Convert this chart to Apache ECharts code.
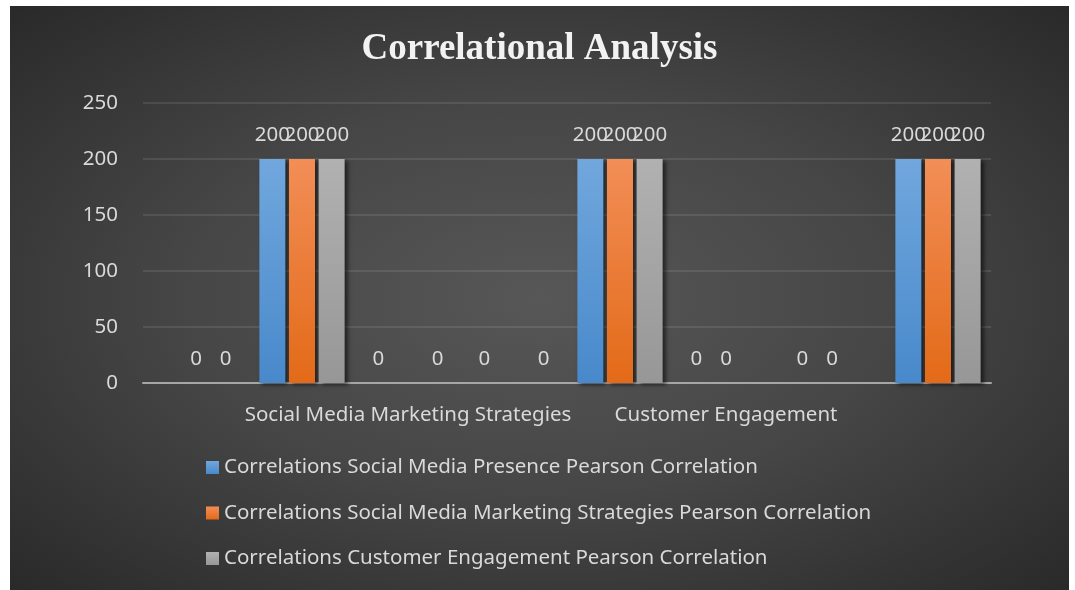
<!DOCTYPE html>
<html>
<head>
<meta charset="utf-8">
<script src="https://cdn.jsdelivr.net/npm/echarts@6/dist/echarts.min.js"></script>
<style>
  html, body { margin: 0; padding: 0; background: #fff; }
  #chart {
    position: absolute;
    left: 10px; top: 6px;
    width: 1059px; height: 584px;
    background: radial-gradient(ellipse 75% 75% at 50% 50%, #575757 0%, #464646 45%, #262626 100%);
  }
</style>
</head>
<body>
<div id="chart"></div>
<script>
// values
const categories = ['', '', 'Social Media Marketing Strategies', '', '', 'Customer Engagement', '', '']
const presence   = [null, 200, 0, 0, 200, 0, 0, 200]
const marketing  = [0, 200, null, null, 200, 0, 0, 200]
const engagement = [0, 200, 0, 0, 200, null, null, 200]
const yTicks     = { min: 0, max: 250, step: 50 }

const seriesNames = [
  'Correlations Social Media Presence Pearson Correlation',
  'Correlations Social Media Marketing Strategies Pearson Correlation',
  'Correlations Customer Engagement Pearson Correlation',
]

const font = '"Noto Sans", sans-serif'
const fs   = 20.5
const txt  = '#d9d9d9'

function grad(top, bottom) {
  return new echarts.graphic.LinearGradient(0, 0, 0, 1, [
    { offset: 0, color: top },
    { offset: 1, color: bottom },
  ])
}

function bar(name, data, top, bottom) {
  return {
    name, type: 'bar', data,
    barWidth: 26,
    barGap: '14%',
    itemStyle: {
      color: grad(top, bottom),
      shadowColor: 'rgba(0,0,0,0.55)', shadowBlur: 4,
      shadowOffsetX: 3, shadowOffsetY: 2,
    },
    label: {
      show: true, position: 'top', distance: 13,
      color: txt, fontSize: fs, fontFamily: font,
    },
  }
}

const chart = echarts.init(document.getElementById('chart'), null, { renderer: 'canvas' })

chart.setOption({
  backgroundColor: 'transparent',
  animation: false,
  title: {
    text: 'Correlational Analysis',
    left: 'center', top: 20,
    textStyle: {
      color: '#f2f2f2', fontSize: 37, fontWeight: 'bold',
      fontFamily: '"Liberation Serif", "Times New Roman", serif',
    },
  },
  grid: { left: 133, right: 78, top: 97, bottom: 207, containLabel: false },
  legend: {
    orient: 'vertical',
    left: 196, top: 451, padding: 0,
    itemWidth: 13, itemHeight: 13, itemGap: 24.5,
    icon: 'rect',
    textStyle: { color: txt, fontSize: fs, fontFamily: font },
  },
  xAxis: {
    type: 'category', data: categories,
    axisLine: { lineStyle: { color: '#a6a6a6', width: 2 } },
    axisTick: { show: false },
    axisLabel: { interval: 0, color: txt, fontSize: fs, fontFamily: font, margin: 22 },
    splitLine: { show: false },
  },
  yAxis: {
    type: 'value',
    min: yTicks.min, max: yTicks.max, interval: yTicks.step,
    axisLine: { show: false }, axisTick: { show: false },
    axisLabel: { color: txt, fontSize: fs, fontFamily: font, margin: 25 },
    splitLine: { lineStyle: { color: 'rgba(255,255,255,0.13)', width: 1.5 } },
  },
  series: [
    bar(seriesNames[0], presence,   '#71a7dd', '#4889cb'),
    bar(seriesNames[1], marketing,  '#f28e57', '#e36a18'),
    bar(seriesNames[2], engagement, '#b1b1b1', '#979797'),
  ],
})
</script>
</body>
</html>
